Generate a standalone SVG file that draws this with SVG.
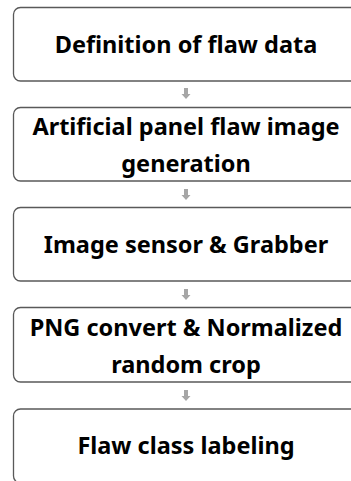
<svg xmlns="http://www.w3.org/2000/svg" width="351" height="481" viewBox="0 0 351 481">
<style>
.box{fill:#ffffff;stroke:#595959;stroke-width:1.3}
.t{font-family:"Noto Sans","Open Sans","DejaVu Sans",sans-serif;font-weight:bold;font-size:23.5px;fill:#000000;text-anchor:middle}
.arr{fill:#a6a6a6}
</style>
<defs>
<path id="dn" d="M-2,0 H2 V6 H4.5 L0,11 L-4.5,6 H-2 Z"/>
</defs>
<rect width="351" height="481" fill="#ffffff"/>
<g id="connectors">
<use href="#dn" class="arr" x="186" y="88"/>
<use href="#dn" class="arr" x="186" y="189"/>
<use href="#dn" class="arr" x="186" y="289"/>
<use href="#dn" class="arr" x="186" y="390"/>
</g>
<g id="n1">
<rect class="box" x="13.5" y="7.5" width="350" height="73.5" rx="7"/>
<text class="t" x="186" y="53">Definition of flaw data</text>
</g>
<g id="n2">
<rect class="box" x="13.5" y="107.5" width="350" height="73.5" rx="7"/>
<text class="t" x="186" y="135">Artificial panel flaw image</text>
<text class="t" x="186" y="172">generation</text>
</g>
<g id="n3">
<rect class="box" x="13.5" y="207.5" width="350" height="73.5" rx="7"/>
<text class="t" x="186" y="253">Image sensor &amp; Grabber</text>
</g>
<g id="n4">
<rect class="box" x="13.5" y="307.5" width="350" height="74.5" rx="7"/>
<text class="t" x="186" y="336">PNG convert &amp; Normalized</text>
<text class="t" x="186" y="373">random crop</text>
</g>
<g id="n5">
<rect class="box" x="13.5" y="409" width="350" height="74" rx="7"/>
<text class="t" x="186" y="454">Flaw class labeling</text>
</g>
</svg>
